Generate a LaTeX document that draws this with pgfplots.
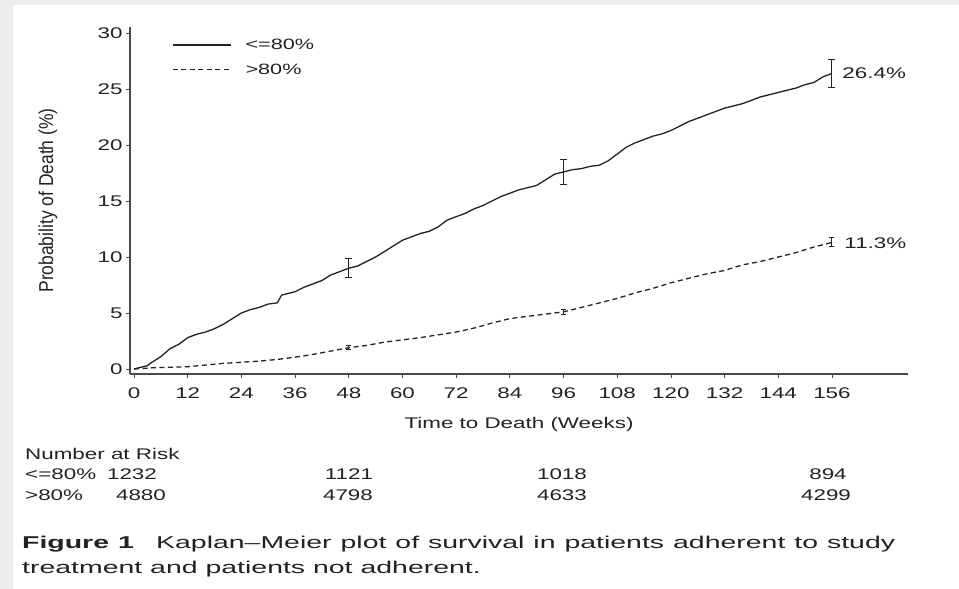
\documentclass[border=0pt]{standalone}
\usepackage{fontspec}
\setmainfont{Liberation Sans}[FakeStretch=1.45]
\newfontfamily\ylabfont{Liberation Sans}[FakeStretch=1.13]
\newfontfamily\capfont{Liberation Sans}[FakeStretch=1.66]
\usepackage{pgfplots}
\usepackage{pgfplotstable}
\pgfplotsset{compat=1.18}
\definecolor{ink}{HTML}{222222}
\definecolor{axisgray}{HTML}{4A4A4A}
\definecolor{frame}{HTML}{EEEEEE}

% Cumulative probability of death (%), adherence <= 80%
\pgfplotstableread{
week prob
0 0
1 0.1
3 0.3
4 0.6
6 1.1
8 1.8
10 2.2
12 2.8
14 3.1
16 3.3
18 3.6
20 4.0
22 4.5
24 5.0
26 5.3
28 5.5
30 5.8
32 5.9
33 6.6
36 6.9
38 7.3
40 7.6
42 7.9
44 8.4
46 8.7
48 9.0
50 9.2
52 9.6
54 10.0
56 10.5
58 11.0
60 11.5
62 11.8
64 12.1
66 12.3
68 12.7
70 13.3
72 13.6
74 13.9
76 14.3
78 14.6
80 15.0
82 15.4
84 15.7
86 16.0
88 16.2
90 16.4
92 16.9
94 17.4
96 17.6
98 17.8
100 17.9
102 18.1
104 18.2
106 18.6
108 19.2
110 19.8
112 20.2
114 20.5
116 20.8
118 21.0
120 21.3
122 21.7
124 22.1
126 22.4
128 22.7
130 23.0
132 23.3
134 23.5
136 23.7
138 24.0
140 24.3
142 24.5
144 24.7
146 24.9
148 25.1
150 25.4
152 25.6
154 26.1
156 26.4
}\lowadh

% Cumulative probability of death (%), adherence > 80%
\pgfplotstableread{
week prob
0 0
4 0.1
8 0.15
12 0.2
16 0.35
20 0.5
24 0.6
28 0.7
32 0.85
36 1.05
40 1.3
44 1.6
48 1.9
52 2.1
56 2.4
60 2.6
64 2.8
68 3.05
72 3.3
76 3.65
80 4.1
84 4.5
88 4.7
92 4.9
96 5.1
100 5.5
104 5.9
108 6.3
112 6.8
116 7.2
120 7.7
124 8.1
128 8.5
132 8.8
136 9.3
140 9.6
144 10.0
148 10.4
152 10.9
156 11.3
}\highadh

% Confidence intervals at selected weeks
\pgfplotstableread{
week prob err
48 9.0 0.85
96 17.6 1.1
156 26.4 1.25
}\lowci
\pgfplotstableread{
week prob err
48 1.9 0.2
96 5.1 0.25
156 11.3 0.4
}\highci

\begin{document}
\begin{tikzpicture}[x=1bp,y=1bp]
\fill[frame] (0,0) rectangle (959,589);
\fill[white] (13,0) rectangle (959,584);
\useasboundingbox (0,0) rectangle (959,589);
\begin{axis}[
  at={(130bp,215bp)}, anchor=south west,
  scale only axis, width=778bp, height=347bp,
  xmin=-0.9, xmax=173, ymin=-0.45, ymax=30.55,
  axis x line*=bottom, axis y line*=left,
  axis line style={axisgray, line width=1.1pt, -},
  xtick={0,12,...,156}, ytick={0,5,...,30},
  tick align=outside, major tick length=4bp,
  tick style={axisgray, line width=0.8pt},
  tick label style={font=\fontsize{15.5}{18}\selectfont, text=ink},
  xticklabel style={yshift=-6bp},
  /pgf/number format/assume math mode=true,
  xlabel={Time to Death (Weeks)},
  xlabel style={at={(axis description cs:0.5,-0.147)}, anchor=center,
    font=\fontsize{15.5}{18}\selectfont, text=ink},
  ylabel={\ylabfont Probability of Death (\%)},
  ylabel style={at={(axis description cs:-0.1054,0.5)}, anchor=center,
    font=\fontsize{15.5}{18}\selectfont, text=ink, yscale=1.3},
  legend style={draw=none, fill=none, at={(axis description cs:0.054,0.972)},
    anchor=north west, font=\fontsize{15}{18}\selectfont, text=ink,
    row sep=9bp, inner sep=0pt},
  legend cell align=left,
  legend image code/.code={\draw[#1] (0bp,0bp) -- (58bp,0bp); \path (70bp,0bp);},
  clip=false,
]
\addplot[ink, line width=1.3pt] table[x=week, y=prob] {\lowadh};
\addlegendentry{<=80\%}
\addplot[ink, line width=1.3pt, dash pattern=on 5bp off 3.5bp] table[x=week, y=prob] {\highadh};
\addlegendentry{>80\%}

\addplot[ink, line width=1pt, draw=none, forget plot,
  error bars/.cd, y dir=both, y explicit,
  error mark options={rotate=90, mark size=3.5bp, line width=1pt, ink},
  error bar style={line width=1pt, ink}]
  table[x=week, y=prob, y error=err] {\lowci};
\addplot[ink, line width=1pt, draw=none, forget plot,
  error bars/.cd, y dir=both, y explicit,
  error mark options={rotate=90, mark size=2.5bp, line width=1pt, ink},
  error bar style={line width=1pt, ink}]
  table[x=week, y=prob, y error=err] {\highci};

\node[anchor=west, xshift=7bp, text=ink, font=\fontsize{15.5}{18}\selectfont] at (axis cs:156,26.4) {26.4\%};
\node[anchor=west, xshift=9bp, text=ink, font=\fontsize{15.5}{18}\selectfont] at (axis cs:156,11.2) {11.3\%};
\end{axis}

% Number at risk
\begin{scope}[every node/.style={text=ink, font=\fontsize{15.5}{18}\selectfont, inner sep=0pt}]
\node[anchor=west] at (25,135) {Number at Risk};
\node[anchor=west] at (25,115) {<=80\%};
\node[anchor=west] at (25,94) {>80\%};
\node at (132,115) {1232};
\node at (349,115) {1121};
\node at (562,115) {1018};
\node at (828,115) {894};
\node at (141,94) {4880};
\node at (348,94) {4798};
\node at (562,94) {4633};
\node at (826,94) {4299};
\end{scope}

% Caption
\node[anchor=north west, inner sep=0pt, align=left, text=ink,
  font=\capfont\fontsize{17.2}{25}\selectfont] at (22,53)
  {\makebox[873bp][s]{\textbf{Figure 1}\hspace{1.3em}Kaplan–Meier plot of survival in patients adherent to study}\\
   treatment and patients not adherent.};
\end{tikzpicture}
\end{document}
